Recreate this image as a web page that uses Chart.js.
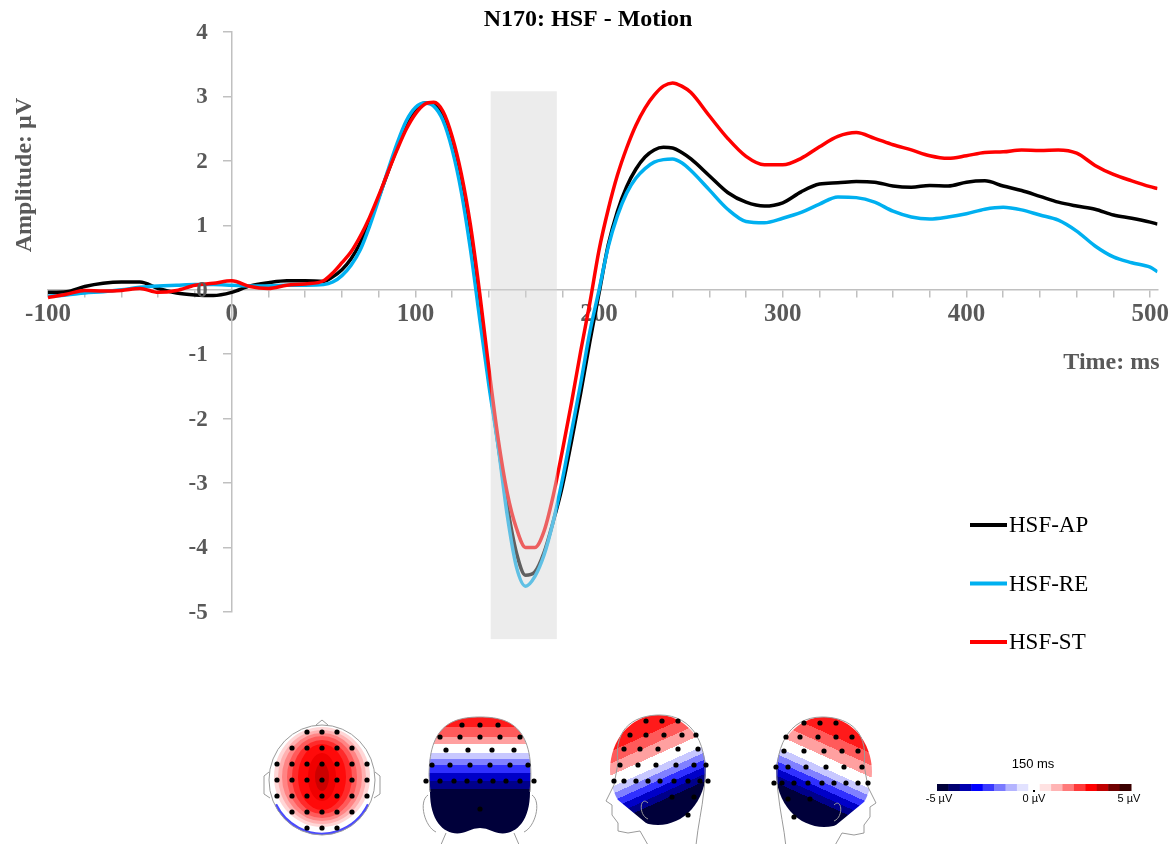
<!DOCTYPE html>
<html>
<head>
<meta charset="utf-8">
<script src="https://cdn.jsdelivr.net/npm/chart.js@4.4.1/dist/chart.umd.min.js"></script>
<style>
  html, body { margin: 0; padding: 0; background: #fff; }
  #wrap { position: relative; width: 1172px; height: 844px; }
  #chart { position: absolute; left: 0; top: 0; }
  #topo { position: absolute; left: 0; top: 700px; }
</style>
</head>
<body>
<div id="wrap">
  <canvas id="chart" width="1172" height="700"></canvas>
  <canvas id="topo" width="1172" height="144"></canvas>
</div>
<script>
// time points (ms)
const times = [-100, -90, -80, -70, -60, -50, -40, -30, -20, -10, 0, 10, 20, 30, 40, 50,
  55, 60, 65, 70, 75, 80, 85, 90, 95, 100, 105, 110, 115, 120, 125, 130, 135, 140, 145,
  150, 155, 160, 165, 170, 175, 180, 185, 190, 195, 200, 205, 210, 215, 220, 225, 230,
  235, 240, 245, 250, 260, 270, 280, 290, 300, 310, 320, 330, 340, 350, 360, 370, 380,
  390, 400, 410, 420, 430, 440, 450, 460, 470, 480, 490, 500, 504];

// amplitudes (µV)
const hsfAP = [-0.04, -0.03, 0.05, 0.10, 0.12, 0.12, 0.02, -0.05, -0.08, -0.09, -0.04, 0.06, 0.11, 0.14, 0.14, 0.13,
  0.20, 0.31, 0.48, 0.73, 1.06, 1.43, 1.82, 2.20, 2.53, 2.78, 2.90, 2.88, 2.70, 2.28, 1.65, 0.78, -0.30, -1.40, -2.40,
  -3.35, -4.08, -4.43, -4.38, -4.08, -3.60, -3.05, -2.35, -1.60, -0.80, -0.05, 0.70, 1.22, 1.60, 1.87, 2.06, 2.17,
  2.21, 2.20, 2.13, 2.03, 1.77, 1.51, 1.36, 1.30, 1.35, 1.52, 1.64, 1.66, 1.68, 1.67, 1.61, 1.59, 1.62,
  1.61, 1.67, 1.69, 1.61, 1.54, 1.45, 1.36, 1.30, 1.25, 1.16, 1.11, 1.05, 1.02];

const hsfRE = [-0.10, -0.08, -0.05, -0.03, 0.00, 0.04, 0.06, 0.07, 0.08, 0.08, 0.07, 0.06, 0.06, 0.07, 0.07, 0.08,
  0.12, 0.22, 0.38, 0.62, 0.98, 1.40, 1.85, 2.27, 2.62, 2.83, 2.90, 2.85, 2.63, 2.18, 1.52, 0.62, -0.45, -1.48, -2.42,
  -3.50, -4.30, -4.60, -4.45, -4.12, -3.60, -2.95, -2.20, -1.45, -0.65, 0.00, 0.67, 1.15, 1.50, 1.73, 1.88, 1.98,
  2.02, 2.03, 1.97, 1.85, 1.55, 1.25, 1.06, 1.04, 1.11, 1.20, 1.33, 1.44, 1.43, 1.36, 1.22, 1.13, 1.10,
  1.13, 1.18, 1.25, 1.28, 1.24, 1.16, 1.08, 0.91, 0.68, 0.51, 0.42, 0.35, 0.28];

const hsfST = [-0.12, -0.07, -0.01, -0.02, -0.01, 0.02, -0.04, -0.01, 0.07, 0.10, 0.14, 0.05, 0.02, 0.07, 0.09, 0.14,
  0.26, 0.42, 0.59, 0.83, 1.12, 1.46, 1.82, 2.17, 2.49, 2.73, 2.88, 2.91, 2.77, 2.38, 1.80, 1.00, -0.05, -1.22, -2.30,
  -3.15, -3.70, -4.00, -4.00, -3.75, -3.20, -2.50, -1.75, -0.95, -0.20, 0.62, 1.25, 1.78, 2.20, 2.55, 2.82, 3.02,
  3.16, 3.21, 3.16, 3.06, 2.70, 2.35, 2.07, 1.94, 1.94, 2.04, 2.22, 2.38, 2.44, 2.35, 2.25, 2.17, 2.08,
  2.04, 2.08, 2.13, 2.14, 2.17, 2.16, 2.17, 2.12, 1.93, 1.79, 1.69, 1.60, 1.57];

const seriesNames = ["HSF-AP", "HSF-RE", "HSF-ST"];
const seriesColors = ["#000000", "#00b0f0", "#ff0000"];

const xTicks = [-100, -80, -60, -40, -20, 0, 20, 40, 60, 80, 100, 120, 140, 160, 180, 200,
  220, 240, 260, 280, 300, 320, 340, 360, 380, 400, 420, 440, 460, 480, 500];
const xLabelTicks = [-100, 0, 100, 200, 300, 400, 500];
const yTicks = [-5, -4, -3, -2, -1, 0, 1, 2, 3, 4];

// N170 window, shaded box
const windowStart = 141;
const windowEnd = 177;
const windowTop = 3.08;
const windowBottom = -5.42;

const grey = "#595959";
const serif = "'Liberation Serif', 'Times New Roman', serif";

const toPoints = (vals) => vals.map((v, i) => ({ x: times[i], y: v }));

const extras = {
  id: "extras",
  afterDatasetsDraw(chart) {
    const { ctx, scales } = chart;
    const x1 = scales.x.getPixelForValue(windowStart);
    const x2 = scales.x.getPixelForValue(windowEnd);
    const y1 = scales.y.getPixelForValue(windowTop);
    const y2 = scales.y.getPixelForValue(windowBottom);
    ctx.save();
    ctx.fillStyle = "rgba(213,213,213,0.45)";
    ctx.fillRect(x1, y1, x2 - x1, y2 - y1);
    ctx.restore();
  },
  afterDraw(chart) {
    const { ctx, chartArea, scales } = chart;
    ctx.save();
    // title
    ctx.fillStyle = "#000";
    ctx.font = "bold 24px " + serif;
    ctx.textAlign = "center";
    ctx.textBaseline = "middle";
    ctx.fillText("N170: HSF - Motion", 588, 20);

    // y tick labels, left of the y axis
    const axisX = scales.x.getPixelForValue(0);
    ctx.fillStyle = grey;
    ctx.font = "bold 23px " + serif;
    ctx.textAlign = "right";
    scales.y.ticks.forEach((t) => {
      ctx.fillText(String(t.value), axisX - 24, scales.y.getPixelForValue(t.value) + 1);
    });

    // axis titles
    ctx.font = "bold 24px " + serif;
    ctx.fillText("Time: ms", chartArea.right + 2, 363);
    ctx.translate(25, 175);
    ctx.rotate(-Math.PI / 2);
    ctx.textAlign = "center";
    ctx.fillText("Amplitude: µV", 0, 0);
    ctx.restore();

    // legend
    ctx.save();
    ctx.font = "23px " + serif;
    ctx.textBaseline = "middle";
    ctx.textAlign = "left";
    chart.data.datasets.forEach((ds, i) => {
      const y = 525 + i * 58.5;
      ctx.strokeStyle = ds.borderColor;
      ctx.lineWidth = 4;
      ctx.beginPath();
      ctx.moveTo(970, y);
      ctx.lineTo(1007, y);
      ctx.stroke();
      ctx.fillStyle = "#000";
      ctx.fillText(ds.label, 1009, y + 1);
    });
    ctx.restore();
  }
};

new Chart(document.getElementById("chart"), {
  type: "line",
  data: {
    datasets: [
      { label: seriesNames[0], data: toPoints(hsfAP), borderColor: seriesColors[0], order: 2 },
      { label: seriesNames[1], data: toPoints(hsfRE), borderColor: seriesColors[1], order: 1 },
      { label: seriesNames[2], data: toPoints(hsfST), borderColor: seriesColors[2], order: 0 }
    ]
  },
  options: {
    responsive: false,
    animation: false,
    devicePixelRatio: 1,
    layout: { padding: { left: 48, right: 13, top: 32, bottom: 88 } },
    elements: {
      point: { radius: 0 },
      line: { borderWidth: 3.5, cubicInterpolationMode: "monotone", fill: false }
    },
    plugins: {
      legend: { display: false },
      tooltip: { enabled: false },
      title: { display: false }
    },
    scales: {
      x: {
        type: "linear",
        min: -100,
        max: 504,
        position: { y: 0 },
        afterFit: (s) => { s.height = 0; },
        afterBuildTicks: (s) => { s.ticks = xTicks.map((v) => ({ value: v })); },
        border: { color: "#c0c0c0", width: 1.5 },
        grid: { drawOnChartArea: false, drawTicks: true, tickLength: 7, color: "#c0c0c0", lineWidth: 1.5 },
        ticks: {
          autoSkip: false,
          maxRotation: 0,
          padding: 3,
          color: grey,
          font: { family: serif, size: 25, weight: "bold" },
          callback: (v) => (xLabelTicks.includes(v) ? String(v) : "")
        }
      },
      y: {
        type: "linear",
        min: -5,
        max: 4,
        position: { x: 0 },
        afterFit: (s) => { s.width = 0; },
        afterBuildTicks: (s) => { s.ticks = yTicks.map((v) => ({ value: v })); },
        border: { color: "#c0c0c0", width: 1.5 },
        grid: { drawOnChartArea: false, drawTicks: true, tickLength: 8, color: "#c0c0c0", lineWidth: 1.5 },
        ticks: { display: false }
      }
    }
  },
  plugins: [extras]
});

// ---- scalp maps (bottom strip) ----
const topo = document.getElementById("topo").getContext("2d");
const scaleColors = ["#00003a", "#000070", "#0000b0", "#0000ff", "#3a3aff", "#7a7aff", "#b4b4ff", "#e2e2ff",
  "#ffffff", "#ffe2e2", "#ffb4b4", "#ff7a7a", "#ff3a3a", "#ff0000", "#c00000", "#700000", "#3a0000"];

function dot(c, x, y) {
  c.beginPath();
  c.arc(x, y, 2.6, 0, Math.PI * 2);
  c.fillStyle = "#000";
  c.fill();
}

function outline(c, draw) {
  c.save();
  c.strokeStyle = "#9a9a9a";
  c.lineWidth = 1;
  c.beginPath();
  draw();
  c.stroke();
  c.restore();
}

// top view
function topView(c, cx, cy) {
  c.save();
  c.beginPath();
  c.ellipse(cx, cy, 53, 55, 0, 0, Math.PI * 2);
  c.clip();
  c.fillStyle = "#fff";
  c.fillRect(cx - 60, cy - 60, 120, 120);
  c.strokeStyle = "#4a4aff";
  c.lineWidth = 5;
  c.beginPath();
  c.ellipse(cx, cy, 53, 55, 0, Math.PI * 0.15, Math.PI * 0.85);
  c.stroke();
  const rings = [[48, 50, "#ffd6d6"], [44, 47, "#ffb0b0"], [40, 44, "#ff8484"], [35, 41, "#ff5a5a"],
    [30, 37, "#ff2a2a"], [24, 33, "#ff0a0a"], [14, 24, "#f00000"], [7, 14, "#cc0000"]];
  rings.forEach(([rx, ry, col]) => {
    c.beginPath();
    c.ellipse(cx, cy - 3, rx, ry, 0, 0, Math.PI * 2);
    c.fillStyle = col;
    c.fill();
  });
  c.restore();
  outline(c, () => {
    c.ellipse(cx, cy, 53, 55, 0, 0, Math.PI * 2);
    c.moveTo(cx - 6, cy - 55); c.lineTo(cx, cy - 60); c.lineTo(cx + 6, cy - 55);
    c.moveTo(cx - 53, cy - 8); c.lineTo(cx - 58, cy - 4); c.lineTo(cx - 58, cy + 14); c.lineTo(cx - 52, cy + 18);
    c.moveTo(cx + 53, cy - 8); c.lineTo(cx + 58, cy - 4); c.lineTo(cx + 58, cy + 14); c.lineTo(cx + 52, cy + 18);
  });
  for (let r = -3; r <= 3; r++) {
    for (let k = -3; k <= 3; k++) {
      const dx = k * 15, dy = r * 16;
      if ((dx * dx) / (52 * 52) + (dy * dy) / (54 * 54) <= 1.02) dot(c, cx + dx, cy + dy);
    }
  }
}

// back view
function backView(c, cx, top) {
  const head = () => {
    c.moveTo(cx - 50, top + 75);
    c.bezierCurveTo(cx - 56, top + 10, cx - 30, top, cx, top);
    c.bezierCurveTo(cx + 30, top, cx + 56, top + 10, cx + 50, top + 75);
    c.bezierCurveTo(cx + 50, top + 110, cx + 30, top + 122, cx + 12, top + 114);
    c.quadraticCurveTo(cx, top + 108, cx - 12, top + 114);
    c.bezierCurveTo(cx - 30, top + 122, cx - 50, top + 110, cx - 50, top + 75);
  };
  c.save();
  c.beginPath();
  head();
  c.clip();
  const bands = [[0, 10, "#ff1a1a"], [10, 20, "#ff5a5a"], [20, 27, "#ffa0a0"], [27, 36, "#ffffff"],
    [36, 42, "#c8c8ff"], [42, 48, "#8080ff"], [48, 56, "#3030ff"], [56, 64, "#0000c8"], [64, 72, "#00008a"], [72, 125, "#00003a"]];
  bands.forEach(([a, b, col]) => {
    c.fillStyle = col;
    c.fillRect(cx - 60, top + a, 120, b - a + 1);
  });
  c.restore();
  outline(c, () => {
    c.moveTo(cx - 52, top + 78); c.bezierCurveTo(cx - 62, top + 85, cx - 55, top + 110, cx - 44, top + 115);
    c.moveTo(cx + 52, top + 78); c.bezierCurveTo(cx + 62, top + 85, cx + 55, top + 110, cx + 44, top + 115);
    c.moveTo(cx - 34, top + 116); c.lineTo(cx - 40, top + 130);
    c.moveTo(cx + 34, top + 116); c.lineTo(cx + 40, top + 130);
    c.moveTo(cx - 50, top + 75); c.bezierCurveTo(cx - 56, top + 10, cx - 30, top, cx, top);
    c.bezierCurveTo(cx + 30, top, cx + 56, top + 10, cx + 50, top + 75);
  });
  const rows = [[8, [-18, 0, 18]], [20, [-40, -20, 0, 20, 40]], [33, [-34, -12, 12, 34]],
    [48, [-48, -30, -10, 10, 30, 48]], [64, [-54, -40, -26, -13, 0, 13, 26, 40, 54]], [92, [0]]];
  rows.forEach(([dy, xs]) => xs.forEach((dx) => dot(c, cx + dx, top + dy)));
}

// side view; dir = 1 face to the left, -1 face to the right
function sideView(c, cx, top, dir) {
  c.save();
  c.translate(cx, top);
  c.scale(dir, 1);
  const dome = () => { c.ellipse(0, 55, 48, 55, 0, 0, Math.PI * 2); };
  c.save();
  c.beginPath();
  dome();
  c.clip();
  c.beginPath();
  c.moveTo(-60, -5); c.lineTo(60, -5); c.lineTo(60, 122); c.lineTo(5, 122); c.lineTo(-40, 85); c.lineTo(-60, 80);
  c.closePath();
  c.clip();
  const g = c.createLinearGradient(-20, 0, 25, 100);
  const stops = [[0, "#ff1a1a"], [0.2, "#ff1a1a"], [0.2, "#ff5a5a"], [0.3, "#ff5a5a"], [0.3, "#ffa0a0"], [0.4, "#ffa0a0"],
    [0.4, "#ffffff"], [0.5, "#ffffff"], [0.5, "#c8c8ff"], [0.56, "#c8c8ff"], [0.56, "#8080ff"], [0.62, "#8080ff"],
    [0.62, "#3030ff"], [0.68, "#3030ff"], [0.68, "#0000c8"], [0.74, "#0000c8"], [0.74, "#00008a"], [0.8, "#00008a"],
    [0.8, "#00003a"], [1, "#00003a"]];
  stops.forEach(([p, col]) => g.addColorStop(p, col));
  c.fillStyle = g;
  c.fillRect(-60, -5, 120, 130);
  c.restore();
  // head outline with face
  c.strokeStyle = "#9a9a9a";
  c.lineWidth = 1;
  c.beginPath();
  c.moveTo(-40, 48);
  c.bezierCurveTo(-45, 10, -20, 0, 2, 0);
  c.bezierCurveTo(35, 0, 52, 30, 46, 75);
  c.bezierCurveTo(44, 95, 40, 110, 38, 130);
  c.moveTo(-40, 48);
  c.lineTo(-44, 70); c.lineTo(-52, 86); c.lineTo(-46, 90); c.lineTo(-46, 100);
  c.lineTo(-40, 108); c.lineTo(-40, 116); c.lineTo(-30, 118); c.lineTo(-18, 116); c.lineTo(-10, 130);
  c.moveTo(-10, 88); c.bezierCurveTo(-18, 80, -20, 100, -10, 104);
  c.stroke();
  const rows = [[6, [-12, 4, 20]], [20, [-28, -12, 6, 24, 38]], [34, [-34, -18, 0, 20, 40]],
    [50, [-38, -20, -2, 18, 36, 48]], [66, [-44, -34, -22, -10, 2, 16, 30, 42, 50]], [82, [14, 36]], [100, [30]]];
  rows.forEach(([dy, xs]) => xs.forEach((dx) => dot(c, dx, dy)));
  c.restore();
}

topView(topo, 322, 80);
backView(topo, 480, 17);
sideView(topo, 658, 15, 1);
sideView(topo, 824, 17, -1);

// colour bar
const barX = 937, barW = 194, barY = 84, barH = 7;
scaleColors.forEach((col, i) => {
  topo.fillStyle = col;
  topo.fillRect(barX + (i * barW) / scaleColors.length, barY, barW / scaleColors.length + 0.5, barH);
});
topo.fillStyle = "#000";
topo.fillRect(barX + barW / 2 - 1, barY + barH - 1, 2, 2);
topo.font = "13px 'Liberation Sans', Arial, sans-serif";
topo.textAlign = "center";
topo.textBaseline = "middle";
topo.fillText("150 ms", 1033, 64);
topo.font = "11px 'Liberation Sans', Arial, sans-serif";
topo.fillText("-5 µV", 939, 99);
topo.fillText("0 µV", 1034, 99);
topo.fillText("5 µV", 1129, 99);
</script>
</body>
</html>
